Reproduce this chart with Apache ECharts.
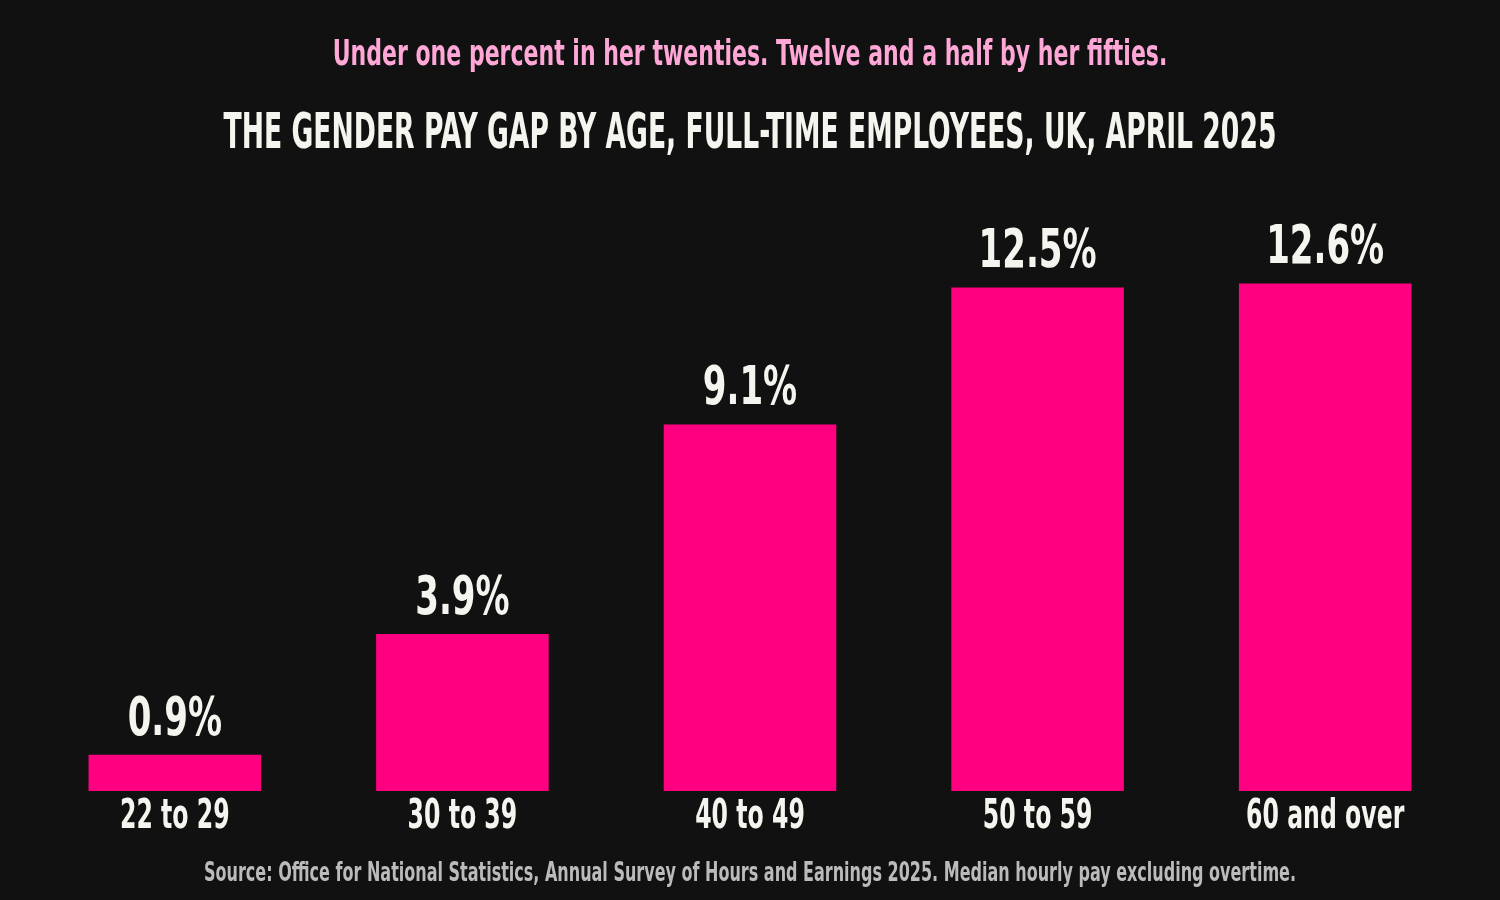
<!DOCTYPE html>
<html>
<head>
<meta charset="utf-8">
<script src="https://cdn.jsdelivr.net/npm/echarts@6/dist/echarts.min.js"></script>
<style>
  html, body { margin: 0; padding: 0; background: #111111; }
  #main { width: 1500px; height: 900px; }
</style>
</head>
<body>
<div id="main"></div>
<script>
var FONT = "'DejaVu Sans Condensed', 'DejaVu Sans', sans-serif";
var WHITE = '#f5f5ef';

// data
var ageGroups = ['22 to 29', '30 to 39', '40 to 49', '50 to 59', '60 and over'];
var payGap = [0.9, 3.9, 9.1, 12.5, 12.6];

var subtitle = 'Under one percent in her twenties. Twelve and a half by her fifties.';
var mainTitle = 'THE GENDER PAY GAP BY AGE, FULL-TIME EMPLOYEES, UK, APRIL 2025';
var sourceNote = 'Source: Office for National Statistics, Annual Survey of Hours and Earnings 2025. Median hourly pay excluding overtime.';

var chart = echarts.init(document.getElementById('main'));

// squeezed text, the font on the original is a tall condensed one
function headText(txt, y, size, sx, color) {
    return {
        type: 'text',
        x: 750,
        y: y,
        scaleX: sx,
        style: {
            text: txt,
            font: 'bold ' + size + 'px ' + FONT,
            fill: color,
            align: 'center',
            verticalAlign: 'middle'
        }
    };
}

var option = {
    backgroundColor: '#111111',
    graphic: [
        headText(subtitle, 56, 36, 0.68, '#ffa8d8'),
        headText(mainTitle, 135, 50, 0.592, WHITE),
        headText(sourceNote, 874, 27, 0.659, '#bbbbbb')
    ],
    grid: {left: 31, right: 31, top: 227, bottom: 109, containLabel: false},
    xAxis: {
        type: 'category',
        data: ageGroups,
        axisLine: {show: false},
        axisTick: {show: false},
        axisLabel: {show: false}
    },
    yAxis: {
        type: 'value',
        min: 0,
        max: 14,
        show: false,
        splitLine: {show: false}
    },
    series: [
        {
            type: 'bar',
            data: payGap,
            barWidth: '60%',
            itemStyle: {color: '#ff0080'}
        },
        {
            // value labels above bars + category names under them
            type: 'custom',
            data: payGap.map(function (v, i) { return [i, v]; }),
            encode: {x: 0, y: 1},
            z: 10,
            renderItem: function (params, api) {
                var idx = api.value(0);
                var top = api.coord([idx, api.value(1)]);
                var base = api.coord([idx, 0]);
                return {
                    type: 'group',
                    children: [
                        {
                            type: 'text',
                            x: top[0],
                            y: top[1] - 7,
                            scaleX: 0.7,
                            style: {
                                text: payGap[idx] + '%',
                                font: 'bold 54px ' + FONT,
                                fill: WHITE,
                                align: 'center',
                                verticalAlign: 'bottom'
                            }
                        },
                        {
                            type: 'text',
                            x: base[0],
                            y: base[1] + 6,
                            scaleX: 0.64,
                            style: {
                                text: ageGroups[idx],
                                font: 'bold 41px ' + FONT,
                                fill: WHITE,
                                align: 'center',
                                verticalAlign: 'top'
                            }
                        }
                    ]
                };
            }
        }
    ],
    animation: false
};

chart.setOption(option);
</script>
</body>
</html>
